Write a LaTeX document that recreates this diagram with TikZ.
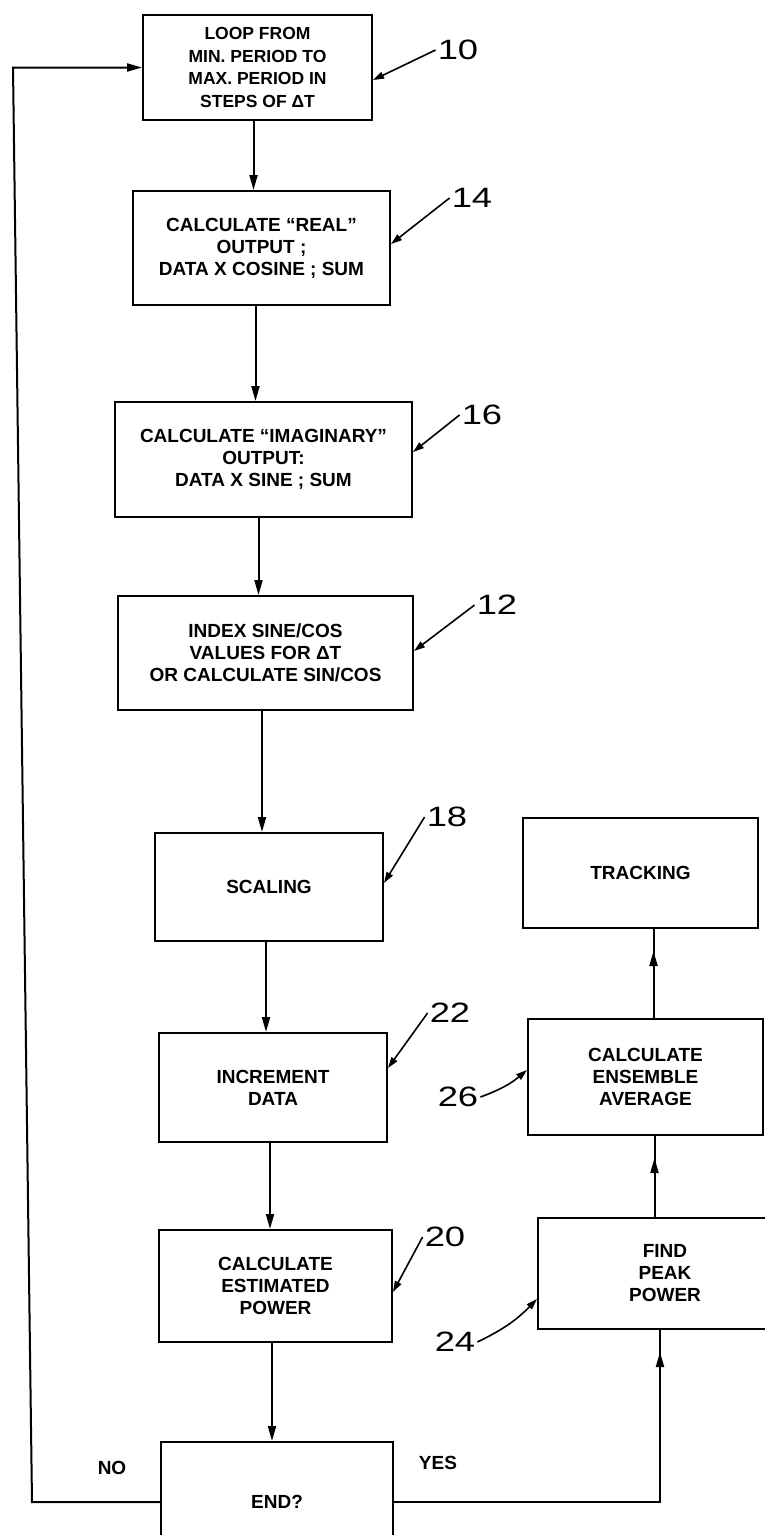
\documentclass[tikz,border=0pt]{standalone}
\usepackage{fontspec}
\setmainfont{Liberation Sans}
\usetikzlibrary{positioning, arrows.meta, decorations.markings}

\newcommand{\refnum}[1]{\scalebox{1.3}[1]{#1}}

\begin{document}
\begin{tikzpicture}[
  x=1pt, y=-1pt,
  box/.style={draw, line width=2pt, align=center, inner sep=2pt,
              font=\fontsize{19}{22}\selectfont\bfseries},
  arr/.style={-{Triangle[length=15pt,width=8pt]}, line width=2pt},
  lead/.style={-{Triangle[length=11pt,width=7pt]}, line width=1.6pt},
  midtip/.style={line width=2pt, postaction={decorate},
    decoration={markings,
      mark=at position -22pt with {\arrow{Triangle[length=15pt,width=8pt]}}}},
  num/.style={font=\fontsize{28}{28}\selectfont, inner sep=2pt},
  lbl/.style={font=\fontsize{19}{22}\selectfont\bfseries},
]
\useasboundingbox (0,0) rectangle (765,1535);

% left column
\node[box, minimum width=229pt, minimum height=105pt,
      font=\fontsize{17.5}{22.5}\selectfont\bfseries] (b10) at (257.5,67.5)
  {LOOP FROM\\MIN. PERIOD TO\\MAX. PERIOD IN\\STEPS OF ΔT};
\node[box, minimum width=257pt, minimum height=114pt, below=69pt of b10, xshift=4pt] (b14)
  {CALCULATE ``REAL''\\OUTPUT ;\\DATA X COSINE ; SUM};
\node[box, minimum width=297pt, minimum height=115pt, below=95pt of b14, xshift=2pt] (b16)
  {CALCULATE ``IMAGINARY''\\OUTPUT:\\DATA X SINE ; SUM};
\node[box, minimum width=295pt, minimum height=114pt, below=77pt of b16, xshift=2pt] (b12)
  {INDEX SINE/COS\\VALUES FOR ΔT\\OR CALCULATE SIN/COS};
\node[box, minimum width=228pt, minimum height=108pt, below=121pt of b12, xshift=3.5pt] (b18)
  {SCALING};
\node[box, minimum width=228pt, minimum height=109pt, below=90pt of b18, xshift=4pt] (b22)
  {INCREMENT\\DATA};
\node[box, minimum width=233pt, minimum height=112pt, below=86pt of b22, xshift=2.5pt] (b20)
  {CALCULATE\\ESTIMATED\\POWER};
\node[box, minimum width=232pt, minimum height=120pt, below=98pt of b20, xshift=1.5pt] (bend)
  {END?};

% right column
\node[box, minimum width=235pt, minimum height=110pt] (trk) at (640.5,873) {TRACKING};
\node[box, minimum width=235pt, minimum height=116pt, below=89pt of trk, xshift=5pt] (b26)
  {CALCULATE\\ENSEMBLE\\AVERAGE};
\node[box, minimum width=254pt, minimum height=111pt, below=81pt of b26, xshift=19.5pt] (b24)
  {FIND\\PEAK\\POWER};

% reference numerals
\node[num] (l10) at (458,50) {\refnum{10}};
\node[num] (l14) at (472,198) {\refnum{14}};
\node[num] (l16) at (482,415) {\refnum{16}};
\node[num] (l12) at (497,605) {\refnum{12}};
\node[num] (l18) at (447,817) {\refnum{18}};
\node[num] (l22) at (450,1013) {\refnum{22}};
\node[num] (l20) at (445,1237) {\refnum{20}};
\node[num] (l26) at (458,1097) {\refnum{26}};
\node[num] (l24) at (455,1342) {\refnum{24}};

\node[lbl] (lno) at (112,1468) {NO};
\node[lbl] (lyes) at (438,1463) {YES};

% flow
\draw[arr] ([xshift=-4pt]b10.south) -- ([xshift=-4pt]b10.south |- b14.north);
\draw[arr] ([xshift=-6pt]b14.south) -- ([xshift=-6pt]b14.south |- b16.north);
\draw[arr] ([xshift=-5pt]b16.south) -- ([xshift=-5pt]b16.south |- b12.north);
\draw[arr] ([xshift=-3.5pt]b12.south) -- ([xshift=-3.5pt]b12.south |- b18.north);
\draw[arr] ([xshift=-3pt]b18.south) -- ([xshift=-3pt]b18.south |- b22.north);
\draw[arr] ([xshift=-3pt]b22.south) -- ([xshift=-3pt]b22.south |- b20.north);
\draw[arr] ([xshift=-3.5pt]b20.south) -- ([xshift=-3.5pt]b20.south |- bend.north);

\coordinate (cnob) at (32,0 |- bend.west);
\coordinate (cnot) at (13,0 |- b10.west);
\draw[arr] (bend.west) -- (cnob) -- (cnot) -- (b10.west);

\draw[midtip] (bend.east) -| ([xshift=-5pt]b24.south);
\draw[midtip] ([xshift=9pt]b26.south |- b24.north) -- ([xshift=9pt]b26.south);
\draw[midtip] ([xshift=8pt]b26.north) -- ([xshift=8pt]b26.north |- trk.south);

% leaders
\draw[lead] (l10.west) -- ([yshift=-12.5pt]b10.east);
\draw[lead] (l14.west) -- ([yshift=4pt]b14.east);
\draw[lead] (l16.west) -- ([yshift=7.5pt]b16.east);
\draw[lead] (l12.west) -- ([yshift=2pt]b12.east);
\draw[lead] (l18.west) -- ([yshift=4pt]b18.east);
\draw[lead] (l22.west) -- ([yshift=19.5pt]b22.east);
\draw[lead] (l20.west) -- ([yshift=-6pt]b20.east);
\draw[lead] (l26.east) to[bend right=10] ([yshift=7pt]b26.west);
\draw[lead] (l24.east) to[bend right=10] ([yshift=-25.5pt]b24.west);
\end{tikzpicture}
\end{document}
